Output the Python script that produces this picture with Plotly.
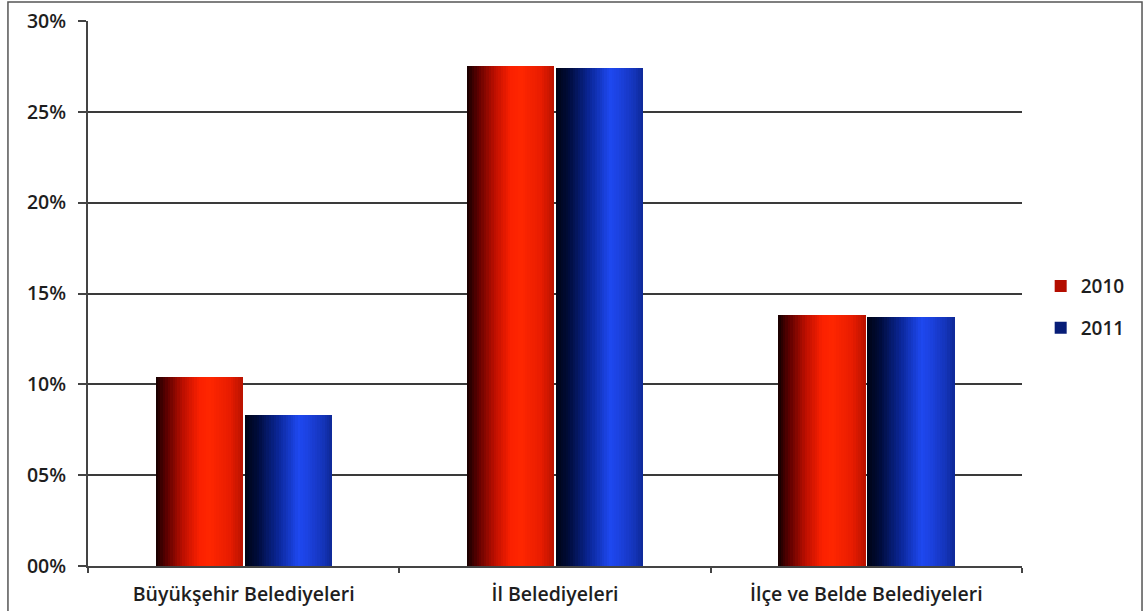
import plotly.graph_objects as go

# Data
categories = ["Büyükşehir Belediyeleri", "İl Belediyeleri", "İlçe ve Belde Belediyeleri"]
series_names = ["2010", "2011"]
values_2010 = [10.4, 27.5, 13.8]
values_2011 = [8.3, 27.4, 13.7]
y_tick_vals = [0, 5, 10, 15, 20, 25, 30]
y_tick_text = ["00%", "05%", "10%", "15%", "20%", "25%", "30%"]

# Cylinder-like shading: colour stops across the bar width (fraction, rgb)
red_stops = [(0.0, (20, 0, 0)), (0.12, (90, 0, 0)), (0.32, (190, 15, 0)),
             (0.5, (250, 32, 0)), (0.62, (255, 38, 0)), (0.85, (232, 28, 0)),
             (1.0, (185, 18, 0))]
blue_stops = [(0.0, (0, 4, 20)), (0.15, (0, 12, 60)), (0.38, (10, 38, 150)),
              (0.62, (30, 72, 240)), (0.72, (28, 66, 225)), (0.9, (20, 52, 185)),
              (1.0, (14, 40, 150))]


def shade(stops, t):
    for (t0, c0), (t1, c1) in zip(stops[:-1], stops[1:]):
        if t0 <= t <= t1:
            f = (t - t0) / (t1 - t0) if t1 > t0 else 0
            c = [round(a + (b - a) * f) for a, b in zip(c0, c1)]
            return f"rgb({c[0]},{c[1]},{c[2]})"
    c = stops[-1][1]
    return f"rgb({c[0]},{c[1]},{c[2]})"


x_pos = list(range(len(categories)))
bar_w = 0.28
gap = 0.006
lefts = [-bar_w - gap / 2, gap / 2]
strips = 36
sw = bar_w / strips

fig = go.Figure()
for name, vals, stops, left in [(series_names[0], values_2010, red_stops, lefts[0]),
                                (series_names[1], values_2011, blue_stops, lefts[1])]:
    for j in range(strips):
        t = (j + 0.5) / strips
        fig.add_trace(go.Bar(
            x=x_pos, y=vals, width=sw * 1.08, offset=left + j * sw,
            marker=dict(color=shade(stops, t), line=dict(width=0)),
            showlegend=False, hoverinfo="skip",
        ))
    # legend entry
    fig.add_trace(go.Bar(
        x=[None], y=[None], name=name, legendgroup=name,
        marker=dict(color=shade(stops, 0.3), line=dict(width=0)),
    ))

font_family = "Open Sans, Lato, sans-serif"
label_font = dict(size=19.5, family=font_family, weight=600, color="#1e1e1e")
fig.update_layout(
    width=1146, height=611,
    margin=dict(l=88, r=124, t=21, b=45, autoexpand=False),
    paper_bgcolor="white", plot_bgcolor="white",
    barmode="overlay", bargap=0,
    font=dict(family=font_family, size=15, color="#222"),
    legend=dict(x=1.02, y=0.475, xanchor="left", yanchor="middle",
                font=dict(size=19, family=font_family, weight=600, color="#1e1e1e"),
                tracegroupgap=14, traceorder="grouped", itemwidth=30,
                bgcolor="rgba(0,0,0,0)"),
    xaxis=dict(range=[-0.5, 2.5], tickvals=x_pos, ticktext=categories,
               ticks="", showgrid=False, zeroline=False, automargin=False,
               showline=True, linecolor="#444", linewidth=2,
               ticklabelstandoff=10, tickfont=label_font,
               minor=dict(tickvals=[-0.5, 0.5, 1.5, 2.5], ticks="outside",
                          ticklen=5, tickwidth=2, tickcolor="#444", showgrid=False)),
    yaxis=dict(range=[0, 30], tickvals=y_tick_vals, ticktext=y_tick_text,
               ticks="outside", ticklen=8, tickwidth=2, tickcolor="#444",
               showgrid=True, gridcolor="#3a3a3a", gridwidth=2, automargin=False,
               zeroline=False, showline=True, linecolor="#444", linewidth=2,
               ticklabelstandoff=8, tickfont=label_font),
    shapes=[dict(type="rect", xref="paper", yref="paper",
                 x0=-0.0857, x1=1.1285, y0=-0.2, y1=1.0349,
                 line=dict(color="#555", width=1.5), layer="below")],
)

fig.write_html("out.html")
